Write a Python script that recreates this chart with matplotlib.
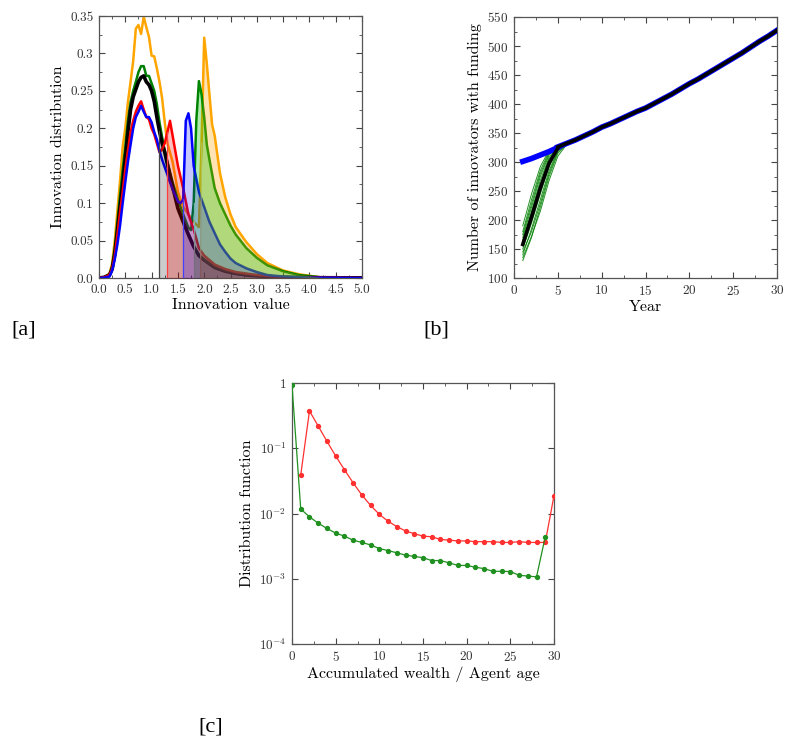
import numpy as np
import matplotlib
matplotlib.use("Agg")
import matplotlib.pyplot as plt
from matplotlib.ticker import MultipleLocator, FixedLocator, FixedFormatter

plt.rcParams['font.family'] = 'cmr10'
plt.rcParams['mathtext.fontset'] = 'cm'
plt.rcParams['axes.formatter.use_mathtext'] = True
plt.rcParams['axes.unicode_minus'] = False

# ---------------- panel a data: innovation distributions ----------------
orange_x = [0, 0.1, 0.2, 0.25, 0.3, 0.35, 0.4, 0.45, 0.5, 0.55, 0.6, 0.65, 0.7, 0.75, 0.8, 0.85, 0.9, 0.95,
            1.0, 1.05, 1.1, 1.15, 1.2, 1.25, 1.3, 1.4, 1.5, 1.6, 1.7, 1.8, 1.9, 1.95, 2.0, 2.05, 2.1, 2.15,
            2.2, 2.3, 2.4, 2.5, 2.6, 2.7, 2.8, 3.0, 3.2, 3.5, 3.8, 4.2, 5.0]
orange_y = [0, 0.001, 0.006, 0.02, 0.05, 0.09, 0.13, 0.175, 0.2, 0.235, 0.262, 0.29, 0.333, 0.338, 0.326, 0.349,
            0.335, 0.322, 0.297, 0.296, 0.28, 0.262, 0.24, 0.208, 0.18, 0.155, 0.115, 0.095, 0.085, 0.075, 0.068,
            0.18, 0.321, 0.286, 0.245, 0.205, 0.19, 0.14, 0.108, 0.085, 0.068, 0.058, 0.048, 0.032, 0.02, 0.01,
            0.005, 0.001, 0.0]

green_x = [0, 0.1, 0.2, 0.25, 0.3, 0.35, 0.4, 0.45, 0.5, 0.55, 0.6, 0.65, 0.7, 0.75, 0.8, 0.85, 0.9, 0.95,
           1.0, 1.05, 1.1, 1.15, 1.2, 1.25, 1.3, 1.4, 1.5, 1.6, 1.7, 1.75, 1.8, 1.85, 1.9, 1.95, 2.0, 2.05,
           2.1, 2.2, 2.3, 2.4, 2.5, 2.6, 2.8, 3.0, 3.2, 3.5, 3.8, 4.2, 5.0]
green_y = [0, 0.001, 0.005, 0.015, 0.04, 0.075, 0.11, 0.145, 0.175, 0.21, 0.235, 0.25, 0.262, 0.275, 0.283, 0.283,
           0.27, 0.27, 0.26, 0.25, 0.232, 0.208, 0.188, 0.17, 0.155, 0.128, 0.105, 0.085, 0.067, 0.064, 0.1, 0.21,
           0.263, 0.245, 0.215, 0.178, 0.158, 0.12, 0.1, 0.085, 0.07, 0.058, 0.04, 0.027, 0.017, 0.009, 0.004,
           0.001, 0.0]

blue_x = [0, 0.1, 0.2, 0.25, 0.3, 0.35, 0.4, 0.45, 0.5, 0.55, 0.6, 0.65, 0.7, 0.75, 0.8, 0.85, 0.9, 0.95,
          1.0, 1.05, 1.1, 1.15, 1.2, 1.25, 1.3, 1.4, 1.5, 1.55, 1.6, 1.65, 1.7, 1.75, 1.8, 1.9, 2.0, 2.1,
          2.2, 2.3, 2.4, 2.5, 2.6, 2.8, 3.0, 3.2, 3.5, 4.0, 5.0]
blue_y = [0, 0.0005, 0.002, 0.01, 0.025, 0.045, 0.07, 0.1, 0.128, 0.155, 0.178, 0.2, 0.215, 0.222, 0.23, 0.222,
          0.215, 0.215, 0.208, 0.195, 0.185, 0.17, 0.158, 0.148, 0.138, 0.118, 0.102, 0.1, 0.105, 0.21, 0.22,
          0.2, 0.15, 0.115, 0.095, 0.075, 0.06, 0.045, 0.035, 0.026, 0.02, 0.013, 0.008, 0.004, 0.002,
          0.0005, 0.0]

red_x = [0, 0.1, 0.2, 0.25, 0.3, 0.35, 0.4, 0.45, 0.5, 0.55, 0.6, 0.65, 0.7, 0.75, 0.8, 0.85, 0.9, 0.95,
         1.0, 1.05, 1.1, 1.15, 1.2, 1.25, 1.3, 1.35, 1.4, 1.5, 1.6, 1.7, 1.8, 1.9, 2.0, 2.2, 2.4, 2.6, 2.8,
         3.0, 3.3, 3.6, 4.0, 5.0]
red_y = [0, 0.001, 0.004, 0.012, 0.03, 0.058, 0.088, 0.115, 0.145, 0.17, 0.195, 0.21, 0.222, 0.23, 0.236, 0.225,
         0.215, 0.212, 0.2, 0.192, 0.18, 0.168, 0.172, 0.18, 0.195, 0.21, 0.19, 0.15, 0.12, 0.085, 0.065, 0.04,
         0.03, 0.018, 0.012, 0.008, 0.006, 0.004, 0.002, 0.001, 0.0005, 0.0]

black_x = [0, 0.1, 0.2, 0.25, 0.3, 0.35, 0.4, 0.45, 0.5, 0.55, 0.6, 0.65, 0.7, 0.75, 0.8, 0.85, 0.9, 0.95,
           1.0, 1.05, 1.1, 1.15, 1.2, 1.25, 1.3, 1.4, 1.5, 1.6, 1.7, 1.8, 1.9, 2.0, 2.2, 2.4, 2.6, 2.8, 3.0,
           3.3, 3.6, 4.0, 4.5, 5.0]
black_y = [0, 0.001, 0.004, 0.012, 0.032, 0.062, 0.095, 0.125, 0.16, 0.195, 0.225, 0.242, 0.252, 0.262, 0.268,
           0.27, 0.262, 0.258, 0.25, 0.236, 0.215, 0.196, 0.18, 0.168, 0.152, 0.122, 0.093, 0.075, 0.058, 0.042,
           0.03, 0.024, 0.014, 0.009, 0.006, 0.004, 0.003, 0.0015, 0.001, 0.0005, 0.0003, 0.0002]

# funding thresholds (start of shaded region) per scenario
thresholds = {'black': 1.15, 'red': 1.3, 'blue': 1.6, 'green': 1.8, 'orange': 1.93}

# ---------------- panel b data: innovators with funding ----------------
main_years = list(range(5, 31))
main_vals = [326, 332, 338, 345, 352, 360, 366, 373, 380, 387, 393, 401, 409, 417, 426, 435, 443, 452,
             461, 470, 479, 488, 498, 508, 517, 527]
blue_years = [1, 2, 3, 4, 5]
blue_vals = [301, 306, 312, 318, 325]
black_years = [1, 2, 3, 4, 5]
black_vals = [158, 205, 255, 298, 324]
green_years = [1, 2, 3, 4, 5, 6]
green_runs = [
    [130, 170, 222, 275, 315, 331],
    [135, 172, 215, 268, 310, 330],
    [140, 185, 235, 285, 320, 332],
    [145, 180, 228, 280, 318, 331],
    [150, 195, 245, 292, 322, 332],
    [155, 200, 250, 298, 323, 332],
    [160, 210, 262, 305, 325, 332],
    [165, 215, 268, 308, 326, 332],
    [170, 222, 275, 312, 327, 332],
    [175, 228, 280, 315, 327, 332],
    [180, 235, 285, 318, 328, 332],
    [190, 245, 292, 320, 328, 332],
]

# ---------------- panel c data: distribution functions ----------------
wealth_x = list(range(1, 31))
wealth_y = [0.039, 0.373, 0.219, 0.128, 0.076, 0.047, 0.0295, 0.0192, 0.0133, 0.0097, 0.0076, 0.0063,
            0.0054, 0.0049, 0.0045, 0.0044, 0.0040, 0.0039, 0.0038, 0.0038, 0.0037, 0.0037, 0.0037,
            0.0036, 0.0036, 0.0037, 0.0036, 0.0036, 0.0036, 0.0188]
age_x = list(range(0, 30))
age_y = [0.93, 0.0117, 0.0089, 0.0071, 0.0059, 0.0050, 0.0045, 0.0039, 0.0036, 0.0033, 0.0029, 0.0027,
         0.0025, 0.0023, 0.0022, 0.0021, 0.0019, 0.0019, 0.00175, 0.0016, 0.0016, 0.0015, 0.00143,
         0.0013, 0.0013, 0.00129, 0.00113, 0.0011, 0.00107, 0.0044]

W, H = 791, 751
fig = plt.figure(figsize=(W / 100, H / 100), dpi=100)


def style_axes(ax):
    for s in ax.spines.values():
        s.set_color('#555555')
        s.set_linewidth(0.9)
    ax.tick_params(which='both', direction='in', top=True, right=True, colors='#444444',
                   labelcolor='#333333', labelsize=9.5)
    ax.tick_params(which='major', length=4, pad=4)
    ax.tick_params(which='minor', length=2)


# ---- [a]
ax1 = fig.add_axes([99 / W, 1 - 278 / H, 263 / W, 262 / H])
curves = [('orange', orange_x, orange_y, '#ffa500', 1.8),
          ('green', green_x, green_y, '#008000', 1.8),
          ('black', black_x, black_y, '#000000', 2.6),
          ('red', red_x, red_y, '#ff0000', 1.8),
          ('blue', blue_x, blue_y, '#0000ff', 1.8)]
for name, x, y, c, lw in curves:
    ax1.plot(x, y, color=c, lw=lw, zorder=2)

fill_cols = {'black': ('#000000', 0.2, '#444444'), 'red': ('#ff0000', 0.25, '#ff4040'),
             'blue': ('#0000ff', 0.22, '#4040ff'), 'green': ('#00c000', 0.3, '#90ee90'),
             'orange': ('#ffa500', 0.3, '#ffc070')}
for name, x, y, c, lw in curves:
    t = thresholds[name]
    xs = np.array(x)
    ys = np.array(y)
    m = xs >= t
    fx = np.concatenate([[t], xs[m]])
    fy = np.concatenate([[0.0], ys[m]])
    fc, a, ec = fill_cols[name]
    ax1.fill_between(fx, 0, fy, color=fc, alpha=a, lw=0, zorder=3)
    ax1.plot(fx[:2], fy[:2], color=ec, lw=0.9, zorder=3)

ax1.set_xlim(0, 5)
ax1.set_ylim(0, 0.35)
ax1.xaxis.set_minor_locator(MultipleLocator(0.25))
ax1.yaxis.set_minor_locator(MultipleLocator(0.025))
ax1.set_xticks(np.arange(0, 5.01, 0.5))
ax1.set_xticklabels(['%.1f' % v for v in np.arange(0, 5.01, 0.5)])
ax1.set_yticks(np.arange(0, 0.351, 0.05))
ax1.set_yticklabels(['0.0', '0.05', '0.1', '0.15', '0.2', '0.25', '0.3', '0.35'])
ax1.set_xlabel('Innovation value', fontsize=11.5, labelpad=2)
ax1.set_ylabel('Innovation distribution', fontsize=11.5, labelpad=4)
style_axes(ax1)

# ---- [b]
ax2 = fig.add_axes([514 / W, 1 - 278 / H, 263 / W, 261 / H])
for run in green_runs:
    ax2.plot(green_years, run, color='#008000', lw=0.7, alpha=0.85, zorder=2)
ax2.plot(blue_years, blue_vals, color='#0000ff', lw=4, zorder=3)
ax2.plot(black_years, black_vals, color='#000000', lw=2.6, zorder=4)
ax2.plot(main_years, main_vals, color='#0000ff', lw=4, zorder=3)
ax2.plot(main_years, main_vals, color='#000000', lw=2.6, zorder=4)
ax2.set_xlim(0, 30)
ax2.set_ylim(100, 550)
ax2.xaxis.set_major_locator(MultipleLocator(5))
ax2.xaxis.set_minor_locator(MultipleLocator(2.5))
ax2.yaxis.set_major_locator(MultipleLocator(50))
ax2.yaxis.set_minor_locator(MultipleLocator(25))
ax2.set_xlabel('Year', fontsize=11.5, labelpad=2)
ax2.set_ylabel('Number of innovators with funding', fontsize=11.5, labelpad=4)
style_axes(ax2)

# ---- [c]
ax3 = fig.add_axes([292 / W, 1 - 644 / H, 262 / W, 261 / H])
ax3.plot(wealth_x, wealth_y, color='#ff3030', lw=0.9, marker='o', ms=2.8, zorder=3)
ax3.plot(age_x, age_y, color='#209020', lw=0.9, marker='o', ms=2.8, zorder=3)
ax3.set_yscale('log')
ax3.set_xlim(0, 30)
ax3.set_ylim(1e-4, 1)
ax3.yaxis.set_major_locator(FixedLocator([1e-4, 1e-3, 1e-2, 1e-1, 1]))
ax3.yaxis.set_major_formatter(FixedFormatter(['$10^{-4}$', '$10^{-3}$', '$10^{-2}$', '$10^{-1}$', '$1$']))
ax3.yaxis.set_minor_locator(FixedLocator([]))
ax3.xaxis.set_major_locator(MultipleLocator(5))
ax3.xaxis.set_minor_locator(MultipleLocator(2.5))
ax3.set_xlabel('Accumulated wealth / Agent age', fontsize=11.5, labelpad=2)
ax3.set_ylabel('Distribution function', fontsize=11.5, labelpad=4)
style_axes(ax3)

# panel tags
for tag, px, py in [('[a]', 11, 330), ('[b]', 423, 330), ('[c]', 198, 727)]:
    fig.text(px / W, 1 - py / H, tag, fontsize=16, family='Liberation Serif', va='center', ha='left')

fig.savefig('out.png', dpi=100)
